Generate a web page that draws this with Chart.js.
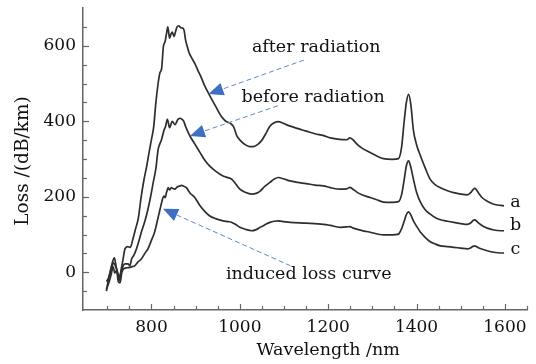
<!DOCTYPE html>
<html>
<head>
<meta charset="utf-8">
<script src="https://cdn.jsdelivr.net/npm/chart.js@4.4.1/dist/chart.umd.min.js"></script>
<style>
  html, body { margin: 0; padding: 0; background: #fff; }
  canvas { display: block; }
</style>
</head>
<body>
<canvas id="myChart" width="536" height="364"></canvas>
<script>
// curve a = after radiation, b = before radiation, c = induced loss
var aWl   = [698,702,707,712,716,720,724,727,731,735,740,746,752,758,764,770,777,783,789,795,
             800,805,810,815,819,823,827,831,834,837,841,844,847,851,855,858,862,866,870,874,
             877,881,885,890,898,905,913,920,931,945,958,968,978,986,993,1002,1012,1022,1031,1040,
             1050,1060,1068,1078,1087,1096,1105,1114,1130,1150,1170,1190,1205,1225,1242,1249,1256,1264,1275,1295,1310,
             1325,1345,1359,1366,1372,1377,1382,1387,1393,1400,1409,1420,1431,1442,1454,1470,1484,1500,1515,1522,
             1528,1532,1537,1542,1548,1560,1575,1590,1598];
var aLoss = [-50,-22,5,28,38,15,-8,-22,5,30,62,68,66,88,115,142,202,245,280,320,
             352,385,450,500,528,540,598,612,632,650,620,630,636,625,640,650,653,648,647,640,
             616,598,582,570,553,535,515,495,470,440,413,400,395,385,362,348,338,333,333,338,
             350,370,387,396,399,396,391,387,381,374,367,362,356,352,351,356,351,341,330,317,308,
             301,299,301,330,400,450,471,445,375,338,308,275,246,232,224,216,211,207,205,210,
             219,222,216,207,198,188,180,177,176];

var bWl   = [698,703,709,714,718,722,727,731,735,740,747,751,755,760,766,772,777,785,792,798,
             804,810,815,819,823,828,832,836,841,847,853,860,865,869,873,877,882,887,898,910,
             920,932,945,962,975,982,990,1000,1012,1027,1037,1046,1057,1068,1078,1087,1100,1114,1130,1150,
             1170,1189,1205,1227,1242,1249,1256,1264,1275,1295,1310,1325,1345,1359,1366,1372,1377,1382,1387,1393,1400,
             1409,1420,1431,1442,1454,1470,1484,1500,1515,1523,1528,1532,1537,1543,1549,1560,1575,1590,1598];
var bLoss = [-25,-15,8,25,18,5,-12,0,15,22,22,17,35,45,62,85,106,135,167,200,
             238,275,325,340,352,375,387,405,383,400,391,405,408,405,400,387,373,361,340,317,
             298,281,268,255,250,246,235,220,212,207,209,215,228,238,247,251,247,242,238,235,
             231,229,224,220,221,225,220,213,206,198,192,186,185,187,205,245,282,295,278,246,212,
             185,165,154,145,139,135,132,129,127,131,137,139,134,128,123,117,112,110,110];

var cWl   = [698,703,709,713,717,721,725,729,733,738,745,751,757,762,770,777,785,792,800,807,
             815,820,823,828,831,834,838,841,845,849,853,858,863,868,873,879,887,898,910,920,
             932,945,962,975,982,990,1000,1012,1027,1037,1046,1057,1068,1078,1087,1100,1114,1150,1189,1205,
             1227,1242,1249,1257,1275,1295,1325,1345,1359,1366,1372,1377,1382,1387,1393,1400,1409,1420,1431,1442,
             1454,1470,1484,1500,1515,1523,1529,1533,1540,1549,1560,1575,1590,1598];
var cLoss = [-45,-30,-5,15,-2,5,-25,-28,0,10,12,13,15,17,28,35,50,62,85,106,
             145,170,185,202,198,211,224,218,224,222,220,226,228,230,228,224,210,198,176,162,
             149,142,136,134,132,127,119,114,110,113,119,126,132,135,136,134,132,130,127,124,
             119,120,121,117,111,106,99,99,101,115,135,153,160,152,136,122,106,92,81,75,
             70,68,66,64,62,65,69,69,65,61,57,53,51,51];

var xTicks = [700,750,800,850,900,950,1000,1050,1100,1150,1200,1250,1300,1350,1400,1450,1500,1550,1600,1650];
var xLabels = [800,1000,1200,1400,1600];
var yTicks = [-50,0,50,100,150,200,250,300,350,400,450,500,550,600,650];
var yLabels = [0,200,400,600];

// annotation texts / arrows, in data units
var notes = [
  { text: "after radiation",    x: 1173, y: 596 },
  { text: "before radiation",   x: 1166, y: 464 },
  { text: "induced loss curve", x: 1156, y: -7 }
];
var arrows = [
  { from: [1145, 562], to: [929, 472] },
  { from: [1086, 441], to: [887, 361] },
  { from: [1115, 17],  to: [826, 168] }
];
var curveNames = [
  { text: "a", x: 1624, y: 185 },
  { text: "b", x: 1624, y: 123 },
  { text: "c", x: 1624, y: 60 }
];

var SERIF = "'DejaVu Serif', 'Liberation Serif', serif";
var INK = "#111";

function pts(wl, loss) {
  var out = [];
  for (var i = 0; i < wl.length; i++) out.push({ x: wl[i], y: loss[i] });
  return out;
}
function curve(wl, loss) {
  return {
    data: pts(wl, loss),
    borderColor: "#2e2e2e",
    borderWidth: 1.7,
    pointRadius: 0,
    fill: false,
    cubicInterpolationMode: "monotone"
  };
}

var deco = {
  id: "deco",
  afterDraw: function (chart) {
    var c = chart.ctx, xs = chart.scales.x, ys = chart.scales.y, area = chart.chartArea;
    c.save();
    // inward ticks
    c.strokeStyle = "#666";
    c.lineWidth = 1.2;
    yTicks.forEach(function (v) {
      var py = Math.round(ys.getPixelForValue(v)) + 0.5;
      var len = yLabels.indexOf(v) >= 0 ? 6 : 4;
      c.beginPath(); c.moveTo(area.left, py); c.lineTo(area.left + len, py); c.stroke();
    });
    xTicks.forEach(function (v) {
      var px = Math.round(xs.getPixelForValue(v)) + 0.5;
      var len = xLabels.indexOf(v) >= 0 ? 6 : 4;
      c.beginPath(); c.moveTo(px, area.bottom); c.lineTo(px, area.bottom - len); c.stroke();
    });

    // axis titles
    c.fillStyle = INK;
    c.textAlign = "center";
    c.textBaseline = "middle";
    c.font = "17.5px " + SERIF;
    c.fillText("Wavelength /nm", xs.getPixelForValue(1200), area.bottom + 40);
    c.save();
    c.translate(23, 161);
    c.rotate(-Math.PI / 2);
    c.font = "18.5px " + SERIF;
    c.fillText("Loss /(dB/km)", 0, 0);
    c.restore();

    // dashed arrows
    arrows.forEach(function (a) {
      var x0 = xs.getPixelForValue(a.from[0]), y0 = ys.getPixelForValue(a.from[1]);
      var x1 = xs.getPixelForValue(a.to[0]),   y1 = ys.getPixelForValue(a.to[1]);
      var ang = Math.atan2(y1 - y0, x1 - x0);
      var head = 15, half = 6.5;
      var bx = x1 - head * Math.cos(ang), by = y1 - head * Math.sin(ang);
      c.strokeStyle = "#5b87d4";
      c.lineWidth = 1;
      c.setLineDash([5, 3]);
      c.beginPath(); c.moveTo(x0, y0); c.lineTo(bx, by); c.stroke();
      c.setLineDash([]);
      c.fillStyle = "#3f6fc4";
      c.beginPath();
      c.moveTo(x1, y1);
      c.lineTo(bx + half * Math.sin(ang), by - half * Math.cos(ang));
      c.lineTo(bx - half * Math.sin(ang), by + half * Math.cos(ang));
      c.closePath();
      c.fill();
    });

    // texts
    c.fillStyle = INK;
    c.font = "17.5px " + SERIF;
    notes.concat(curveNames).forEach(function (n) {
      c.fillText(n.text, xs.getPixelForValue(n.x), ys.getPixelForValue(n.y));
    });
    c.restore();
  }
};

var ctx = document.getElementById("myChart");
var myChart = new Chart(ctx, {
  type: "line",
  data: { datasets: [curve(aWl, aLoss), curve(bWl, bLoss), curve(cWl, cLoss)] },
  options: {
    responsive: false,
    animation: false,
    layout: { padding: { top: 8, right: 9, left: 0, bottom: 0 } },
    plugins: { legend: { display: false }, tooltip: { enabled: false } },
    scales: {
      x: {
        type: "linear",
        min: 645,
        max: 1650,
        afterBuildTicks: function (s) { s.ticks = xTicks.map(function (v) { return { value: v }; }); },
        afterFit: function (s) { s.height = 54; s.paddingLeft = 0; s.paddingRight = 0; },
        grid: { drawOnChartArea: false, drawTicks: false },
        border: { color: "#666", width: 1.5 },
        ticks: {
          autoSkip: false, maxRotation: 0, padding: 7,
          color: INK, font: { family: SERIF, size: 17 },
          callback: function (v) { return xLabels.indexOf(v) >= 0 ? String(v) : ""; }
        }
      },
      y: {
        min: -100,
        max: 700,
        afterBuildTicks: function (s) { s.ticks = yTicks.map(function (v) { return { value: v }; }); },
        afterFit: function (s) { s.width = 83; s.paddingTop = 0; s.paddingBottom = 0; },
        grid: { drawOnChartArea: false, drawTicks: false },
        border: { color: "#666", width: 1.5 },
        ticks: {
          autoSkip: false, padding: 7,
          color: INK, font: { family: SERIF, size: 17 },
          callback: function (v) { return yLabels.indexOf(v) >= 0 ? String(v) : ""; }
        }
      }
    }
  },
  plugins: [deco]
});
</script>
</body>
</html>
